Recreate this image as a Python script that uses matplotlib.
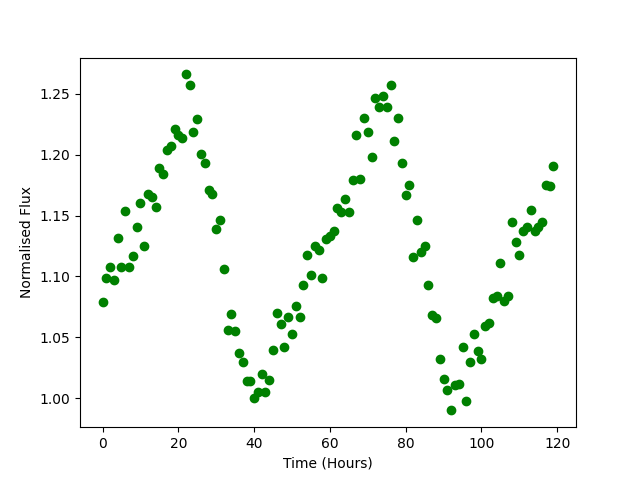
import matplotlib
matplotlib.use("Agg")
import matplotlib.pyplot as plt
import numpy as np

hours = list(range(120))
flux = [
    1.079, 1.099, 1.108, 1.097, 1.132, 1.108, 1.154, 1.108, 1.117, 1.141,
    1.160, 1.125, 1.168, 1.165, 1.157, 1.189, 1.184, 1.204, 1.207, 1.221,
    1.216, 1.214, 1.266, 1.257, 1.219, 1.229, 1.201, 1.193, 1.171, 1.168,
    1.139, 1.146, 1.106, 1.056, 1.069, 1.055, 1.037, 1.030, 1.014, 1.014,
    1.000, 1.005, 1.020, 1.005, 1.015, 1.040, 1.070, 1.061, 1.042, 1.067,
    1.053, 1.076, 1.067, 1.093, 1.118, 1.101, 1.125, 1.122, 1.099, 1.131,
    1.133, 1.137, 1.156, 1.153, 1.164, 1.153, 1.179, 1.216, 1.180, 1.230,
    1.219, 1.198, 1.247, 1.239, 1.248, 1.239, 1.257, 1.211, 1.230, 1.193,
    1.167, 1.175, 1.116, 1.146, 1.120, 1.125, 1.093, 1.068, 1.066, 1.032,
    1.016, 1.007, 0.990, 1.011, 1.012, 1.042, 0.998, 1.030, 1.053, 1.039,
    1.032, 1.059, 1.062, 1.082, 1.084, 1.111, 1.080, 1.084, 1.145, 1.128,
    1.118, 1.137, 1.141, 1.155, 1.137, 1.141, 1.145, 1.175, 1.174, 1.191,
]

fig, ax = plt.subplots(figsize=(6.4, 4.8), dpi=100)
ax.plot(hours, flux, 'o', color='green')
ax.set_xlabel('Time (Hours)')
ax.set_ylabel('Normalised Flux')
fig.savefig('out.png', dpi=100)
